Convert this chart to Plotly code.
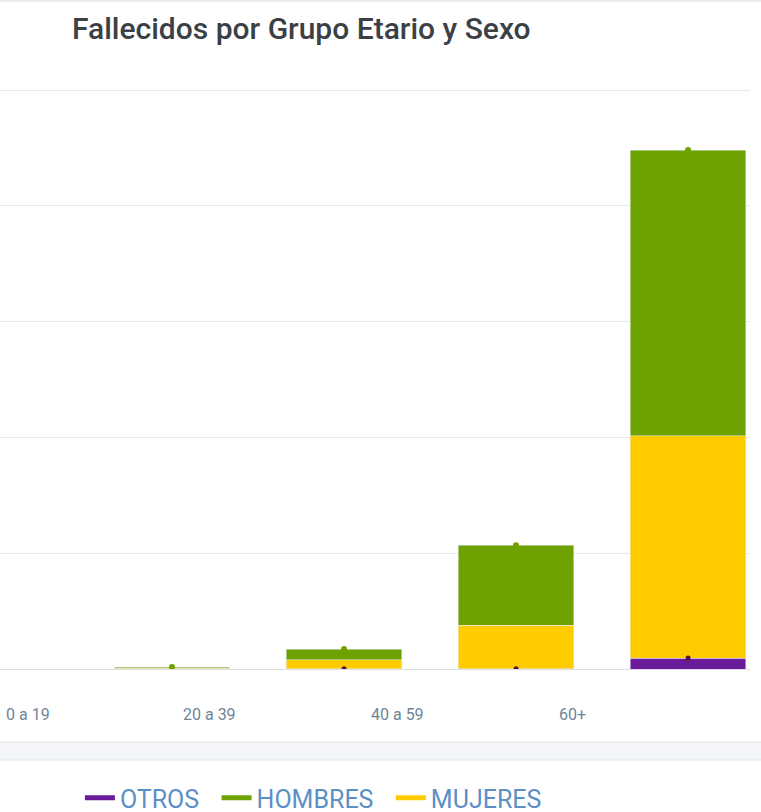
import plotly.graph_objects as go

categories = ["0 a 19", "20 a 39", "40 a 59", "60+"]
otros = [0, 2, 3, 95]
mujeres = [7, 76, 376, 1922]
hombres = [10, 94, 690, 2466]
tick_labels = ["0 a 19", "20 a 39", "40 a 59", "60+"]
legend_names = ["OTROS", "HOMBRES", "MUJERES"]

C_OTROS = "#6a1b9a"
C_HOMBRES = "#6ea200"
C_MUJERES = "#ffcc00"

TOP, BASE = 89, 669
PH = BASE - TOP


def py(px):
    return (BASE - px) / PH


idx = list(range(len(categories)))
fig = go.Figure()
fig.add_trace(go.Bar(x=idx, y=otros, marker_color=C_OTROS, width=0.67, showlegend=False, name="OTROS"))
fig.add_trace(go.Bar(x=idx, y=mujeres, marker_color=C_MUJERES, width=0.67, showlegend=False, name="MUJERES"))
fig.add_trace(go.Bar(x=idx, y=hombres, marker_color=C_HOMBRES, width=0.67, showlegend=False, name="HOMBRES"))

tot = [o + m + h for o, m, h in zip(otros, mujeres, hombres)]
fig.add_trace(go.Scatter(x=idx, y=tot, mode="markers", marker=dict(color=C_HOMBRES, size=6), showlegend=False, hoverinfo="skip"))
fig.add_trace(go.Scatter(x=idx[1:], y=otros[1:], mode="markers", marker=dict(color="#5a1030", size=5), showlegend=False, hoverinfo="skip"))

for i, (name, col) in enumerate(zip(legend_names, [C_OTROS, C_HOMBRES, C_MUJERES])):
    label = name + ("\u00a0\u00a0" if i < len(legend_names) - 1 else "")
    fig.add_trace(go.Scatter(x=[None], y=[None], mode="lines", name=label, line=dict(color=col, width=5)))

label_pos = [-0.837, 0.22, 1.31, 2.33]
for lp, lab in zip(label_pos, tick_labels):
    fig.add_annotation(x=lp, xref="x", y=py(714), yref="paper", yanchor="middle", text=lab, showarrow=False,
                       font=dict(family="Roboto", size=16, color="#6f8598"))

fig.update_layout(
    autosize=False,
    barmode="stack",
    width=761, height=812,
    margin=dict(l=0, r=11, t=TOP, b=812 - BASE, autoexpand=False),
    paper_bgcolor="white", plot_bgcolor="white",
    title=dict(text="Fallecidos por Grupo Etario y Sexo", x=72/761, xanchor="left", y=1-28/812, yanchor="middle",
               font=dict(family="Roboto", size=30, color="#3b4046", weight=500)),
    xaxis=dict(range=[-1.0, 3.36], showticklabels=False, showgrid=False, zeroline=False, fixedrange=True),
    yaxis=dict(range=[0, 5010], dtick=1000, showticklabels=False, gridcolor="#e6e8ea", gridwidth=1,
               zeroline=True, zerolinecolor="#dcdfe2", zerolinewidth=1),
    legend=dict(orientation="h", x=318/761, xanchor="center", y=py(798), yanchor="middle",
                traceorder="normal", bgcolor="rgba(0,0,0,0)",
                font=dict(family="Roboto", size=25, color="#5b8fc6"),
                itemwidth=30),
    bargap=0.33,
)

fig.add_shape(type="rect", xref="paper", yref="paper", x0=-0.01, x1=1.02,
              y0=py(760), y1=py(742), fillcolor="#f3f5f8", line=dict(color="#e2e6ea", width=1),
              layer="below")
fig.add_shape(type="line", xref="paper", yref="paper", x0=-0.01, x1=1.02, y0=py(1), y1=py(1),
              line=dict(color="#ececec", width=2))

fig.write_html("out.html", config={"displayModeBar": False, "responsive": False},
               post_script="document.body.style.margin='0';")
